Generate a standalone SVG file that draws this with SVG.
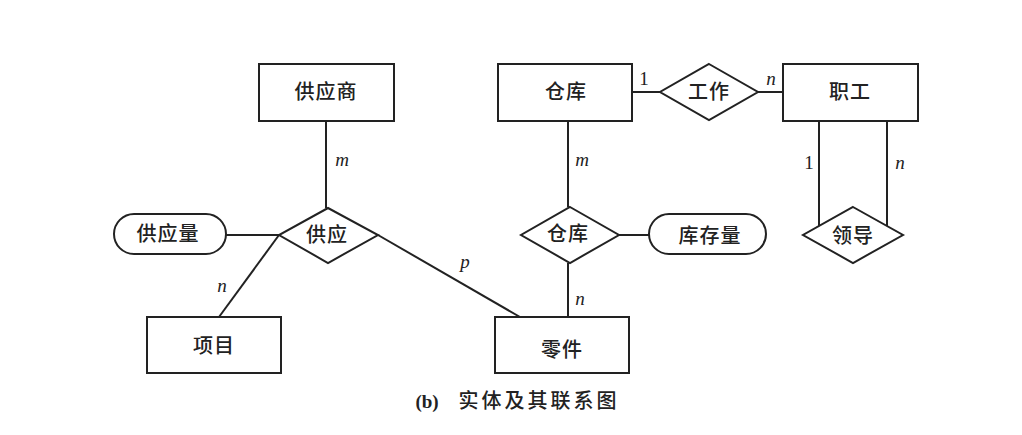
<svg xmlns="http://www.w3.org/2000/svg" width="1022" height="435" viewBox="0 0 1022 435">
<style>
.s{fill:#fff;stroke:#222;stroke-width:2}
.c{stroke:#222;stroke-width:2;fill:none}
.t{font-family:"Liberation Serif","Noto Sans CJK SC",serif;font-size:20px;fill:#222;text-anchor:middle;dominant-baseline:central;font-weight:500;letter-spacing:1px}
.l{font-family:"Liberation Serif",serif;font-size:19px;fill:#222;text-anchor:middle;dominant-baseline:central;font-style:italic}
.o{font-family:"Liberation Serif",serif;font-size:19px;fill:#222;text-anchor:middle;dominant-baseline:central}
</style>
<rect width="1022" height="435" fill="#fff"/>
<g id="connectors">
<line class="c" x1="326" y1="121" x2="326" y2="208"/>
<line class="c" x1="226" y1="235" x2="279" y2="235"/>
<line class="c" x1="279" y1="235" x2="219" y2="317"/>
<line class="c" x1="378" y1="235" x2="520" y2="317"/>
<line class="c" x1="632" y1="92" x2="660" y2="92"/>
<line class="c" x1="758" y1="92" x2="783" y2="92"/>
<line class="c" x1="568" y1="121" x2="568" y2="207"/>
<line class="c" x1="619" y1="235" x2="649" y2="235"/>
<line class="c" x1="568" y1="263" x2="568" y2="317"/>
<line class="c" x1="819" y1="121" x2="819" y2="226"/>
<line class="c" x1="887" y1="121" x2="887" y2="226"/>
<text class="l" x="342" y="159">m</text>
<text class="l" x="222" y="285">n</text>
<text class="l" x="465" y="261">p</text>
<text class="o" x="644" y="78">1</text>
<text class="l" x="771" y="78">n</text>
<text class="l" x="582" y="159">m</text>
<text class="l" x="580" y="298">n</text>
<text class="o" x="809" y="162">1</text>
<text class="l" x="900" y="162">n</text>
</g>
<g id="n-supplier"><rect class="s" x="259" y="64" width="135" height="57"/><text class="t" x="326" y="92">供应商</text></g>
<g id="n-supply"><polygon class="s" points="328,208 378,235 328,263 279,235"/><text class="t" x="327" y="235">供应</text></g>
<g id="n-supplyqty"><rect class="s" x="114" y="214" width="112" height="40" rx="20"/><text class="t" x="168" y="234">供应量</text></g>
<g id="n-project"><rect class="s" x="147" y="317" width="134" height="56"/><text class="t" x="214" y="346">项目</text></g>
<g id="n-warehouse"><rect class="s" x="498" y="64" width="134" height="57"/><text class="t" x="566" y="92">仓库</text></g>
<g id="n-work"><polygon class="s" points="709,64 758,92 709,120 660,92"/><text class="t" x="709" y="92">工作</text></g>
<g id="n-staff"><rect class="s" x="783" y="64" width="135" height="57"/><text class="t" x="850" y="92">职工</text></g>
<g id="n-store"><polygon class="s" points="570,207 619,235 570,263 521,235"/><text class="t" x="568" y="234">仓库</text></g>
<g id="n-storeqty"><rect class="s" x="649" y="214" width="117" height="40" rx="20"/><text class="t" x="710" y="236">库存量</text></g>
<g id="n-lead"><polygon class="s" points="853,207 903,235 853,263 803,235"/><text class="t" x="853" y="236">领导</text></g>
<g id="n-part"><rect class="s" x="495" y="317" width="134" height="56"/><text class="t" x="562" y="350">零件</text></g>
<g id="caption">
<text class="t" x="427" y="401" style="font-size:19px;font-weight:bold;letter-spacing:0">(b)</text>
<text class="t" x="539" y="401" style="font-size:20px;letter-spacing:3px">实体及其联系图</text>
</g>
</svg>
